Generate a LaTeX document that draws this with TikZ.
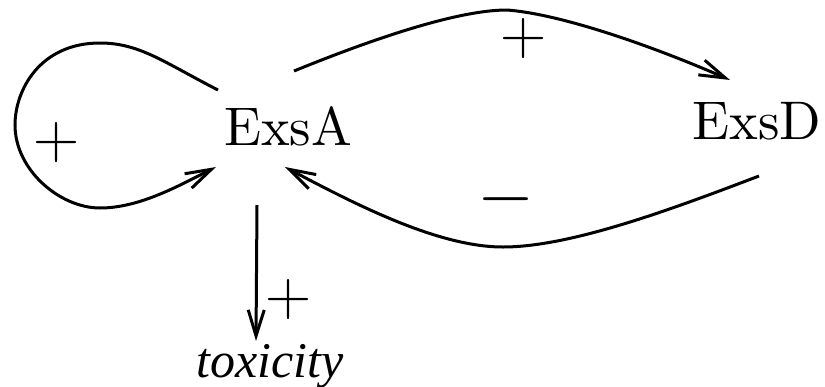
\documentclass[tikz,border=0pt]{standalone}
\usepackage{fontspec}
\usepackage{graphicx}
\newfontfamily\outfont{Liberation Serif}
\usetikzlibrary{arrows.meta}

\begin{document}
\begin{tikzpicture}[
    x=0.5pt, y=-0.5pt,
    gene/.style={inner sep=0pt, outer sep=0pt, font=\fontsize{10}{12}\selectfont},
    output/.style={inner sep=0pt, outer sep=0pt, anchor=base, font=\fontsize{25}{30}\selectfont\outfont\itshape},
    sign/.style={inner sep=0pt, font=\fontsize{32}{38}\selectfont},
    link/.style={line width=1.5pt, -{Straight Barb[length=13pt, width=8pt]}}
]
\useasboundingbox (0,0) rectangle (825,386);
\node[gene] (exsA) at (288,126) {\scalebox{2.72}{ExsA}};
\node[gene] (exsD) at (757,121) {\scalebox{2.72}{ExsD}};
\node[output] (tox) at (270,377) {toxicity};
\node[sign] (selfsign) at (57,143) {+};
\node[sign] (actsign) at (524,39) {+};
\node[gene] (repsign) at (506,199) {\scalebox{3.67}{$-$}};
\node[sign] (toxsign) at (289,300) {+};
% self activation loop
\draw[link] ([shift={(-70,-36)}]exsA.center) .. controls (165,63) and (140,43) .. (100,43)
    .. controls (40,43) and (15,90) .. (15,125)
    .. controls (15,170) and (60,208) .. (100,208)
    .. controls (140,208) and (180,185) .. ([shift={(-72,41)}]exsA.center);
% ExsA -> ExsD
\draw[link] ([shift={(6,-55)}]exsA.center) .. controls (380,36) and (460,10) .. (507,10)
    .. controls (560,14) and (650,45) .. ([shift={(-27,-41)}]exsD.center);
% ExsD -| ExsA
\draw[link] ([shift={(2,55)}]exsD.center) .. controls (670,210) and (570,247) .. (503,247)
    .. controls (440,247) and (360,207) .. ([shift={(-3,41)}]exsA.center);
\draw[link] ([shift={(-31,79)}]exsA.center) -- ([shift={(-14,-36)}]tox.base);
\end{tikzpicture}
\end{document}
